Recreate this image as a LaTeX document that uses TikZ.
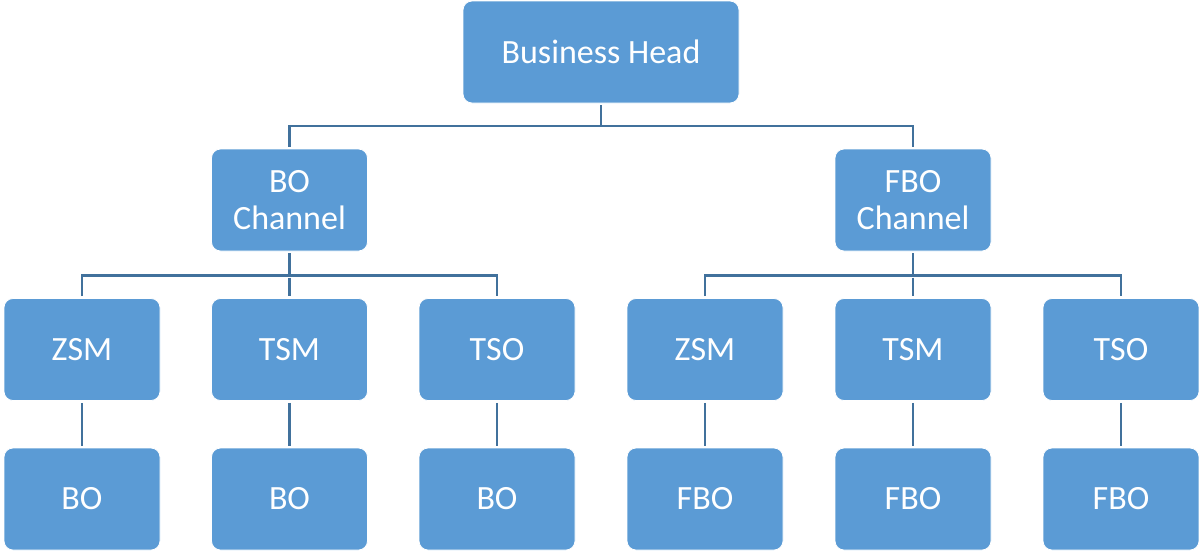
\documentclass[tikz,border=0pt]{standalone}
\usepackage{fontspec}
\setmainfont{Carlito}
\definecolor{boxfill}{HTML}{5B9BD5}
\definecolor{linecol}{HTML}{41719C}
\tikzset{
  orgbox/.style={draw=white, line width=0.8pt, fill=boxfill, rounded corners=9pt,
    text=white, font=\fontsize{34}{37}\selectfont, align=center,
    minimum height=102pt, inner sep=0pt},
  wide/.style={minimum width=276pt},
  narrow/.style={minimum width=156pt},
  conn/.style={draw=linecol, line width=2.6pt, shorten <=2pt, shorten >=2pt},
}
\begin{document}
\begin{tikzpicture}[x=1pt,y=-1pt]
\useasboundingbox (0,0) rectangle (1199,550);
\node[orgbox,wide] (bh) at (601,52) {Business Head};
\node[orgbox,narrow] (boc) at (289.5,200) {BO\\Channel};
\node[orgbox,narrow] (fboc) at (913,200) {FBO\\Channel};
\node[orgbox,narrow] (zsm1) at (82,349.5) {ZSM};
\node[orgbox,narrow] (tsm1) at (289.5,349.5) {TSM};
\node[orgbox,narrow] (tso1) at (497,349.5) {TSO};
\node[orgbox,narrow] (zsm2) at (705,349.5) {ZSM};
\node[orgbox,narrow] (tsm2) at (913,349.5) {TSM};
\node[orgbox,narrow] (tso2) at (1121,349.5) {TSO};
\node[orgbox,narrow] (bo1) at (82,499) {BO};
\node[orgbox,narrow] (bo2) at (289.5,499) {BO};
\node[orgbox,narrow] (bo3) at (497,499) {BO};
\node[orgbox,narrow] (fbo1) at (705,499) {FBO};
\node[orgbox,narrow] (fbo2) at (913,499) {FBO};
\node[orgbox,narrow] (fbo3) at (1121,499) {FBO};
\coordinate (j1) at (601,126);
\coordinate (j2) at (289.5,275.5);
\coordinate (j3) at (913,275.5);
\draw[conn, shorten >=0pt] (bh.south) -- (j1);
\draw[conn] (boc.north) |- (j1) -| (fboc.north);
\draw[conn, shorten >=0pt] (boc.south) -- (j2);
\draw[conn] (zsm1.north) |- (j2) -| (tso1.north);
\draw[conn] (j2) -- (tsm1.north);
\draw[conn, shorten >=0pt] (fboc.south) -- (j3);
\draw[conn] (zsm2.north) |- (j3) -| (tso2.north);
\draw[conn] (j3) -- (tsm2.north);
\draw[conn] (zsm1) -- (bo1);
\draw[conn] (tsm1) -- (bo2);
\draw[conn] (tso1) -- (bo3);
\draw[conn] (zsm2) -- (fbo1);
\draw[conn] (tsm2) -- (fbo2);
\draw[conn] (tso2) -- (fbo3);
\end{tikzpicture}
\end{document}
